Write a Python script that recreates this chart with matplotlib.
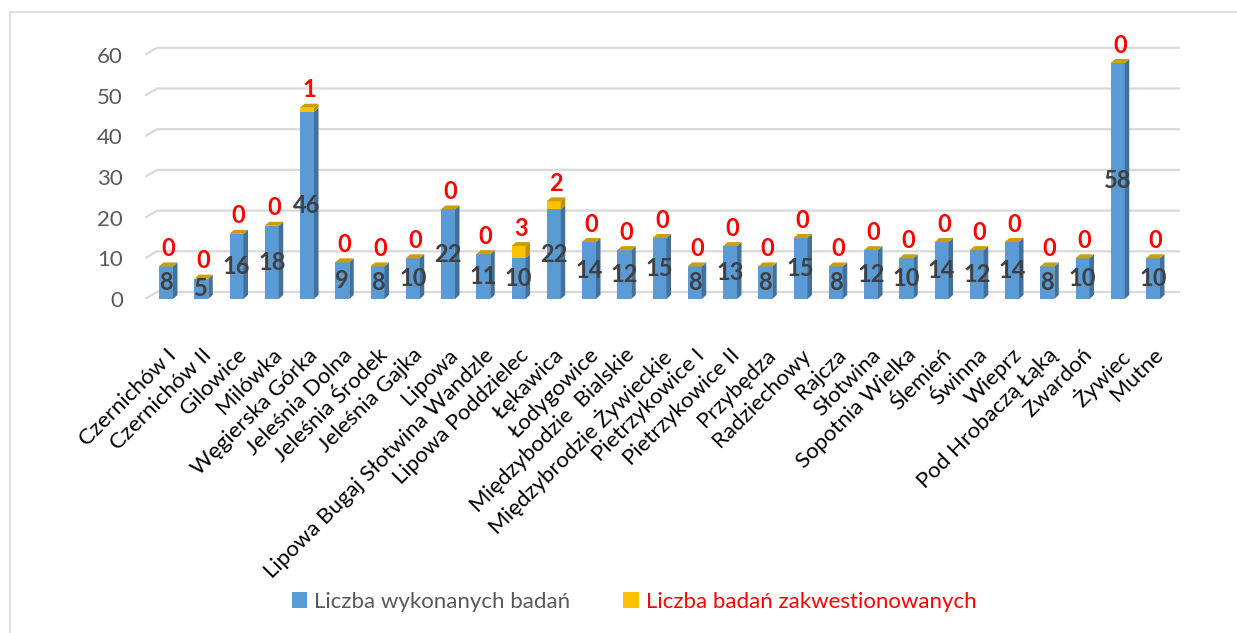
import matplotlib
matplotlib.use('Agg')
import matplotlib.pyplot as plt
from matplotlib.patches import Polygon, Rectangle
from matplotlib.lines import Line2D

plt.rcParams['font.family'] = ['Lato', 'DejaVu Sans']

miejsca = ['Czernichów I', 'Czernichów II', 'Gilowice', 'Milówka', 'Węgierska Górka',
           'Jeleśnia Dolna', 'Jeleśnia Środek', 'Jeleśnia Gajka', 'Lipowa',
           'Lipowa Bugaj Słotwina Wandzle', 'Lipowa Poddzielec', 'Łękawica', 'Łodygowice',
           'Międzybodzie  Bialskie', 'Międzybrodzie Żywieckie', 'Pietrzykowice I',
           'Pietrzykowice II', 'Przybędza', 'Radziechowy', 'Rajcza', 'Słotwina',
           'Sopotnia Wielka', 'Ślemień', 'Świnna', 'Wieprz', 'Pod Hrobaczą Łąką',
           'Zwardoń', 'Żywiec', 'Mutne']
wykonane = [8, 5, 16, 18, 46, 9, 8, 10, 22, 11, 10, 22, 14, 12, 15, 8, 13, 8, 15, 8,
            12, 10, 14, 12, 14, 8, 10, 58, 10]
zakwestionowane = [0, 0, 0, 0, 1, 0, 0, 0, 0, 0, 3, 2, 0, 0, 0, 0, 0, 0, 0, 0,
                   0, 0, 0, 0, 0, 0, 0, 0, 0]
yticks = [0, 10, 20, 30, 40, 50, 60]

BLUE, BLUE_SIDE = '#5B9BD5', '#41719C'
GOLD, GOLD_SIDE, GOLD_TOP = '#FFC000', '#BF9000', '#C9A000'

W, H = 1237, 633
fig = plt.figure(figsize=(W / 100, H / 100), dpi=100)

# pixel layout of the plot area
px_left, px_right, px_bottom, px_top = 145, 1180, 299, 35
px_x0, px_step = 166, 35.25
px_per_unit = 4.07
ax = fig.add_axes([px_left / W, 1 - px_bottom / H, (px_right - px_left) / W,
                   (px_bottom - px_top) / H])
xmin = -(px_x0 - px_left) / px_step
xmax = (px_right - px_x0) / px_step
ymax = (px_bottom - px_top) / px_per_unit
ax.set_xlim(xmin, xmax)
ax.set_ylim(0, ymax)
for s in ax.spines.values():
    s.set_visible(False)

# back wall gridlines with a slanted floor edge
gdx, gdy = 12 / px_step, 7 / px_per_unit
for v in yticks:
    ax.plot([xmin, xmin + gdx, xmax], [v, v + gdy, v + gdy], color='#D9D9D9',
            lw=1.6, zorder=1, solid_capstyle='butt')

# 3D-ish bars
bw = 14 / px_step
dx, dy = 4.5 / px_step, 4 / px_per_unit


def box(x, y0, y1, front, side, top):
    ax.bar(x, y1 - y0, bottom=y0, width=bw, color=front, zorder=3, lw=0)
    xr = x + bw / 2
    ax.add_patch(Polygon([(xr, y0), (xr + dx, y0 + dy), (xr + dx, y1 + dy), (xr, y1)],
                         closed=True, fc=side, ec='none', zorder=3))
    if top:
        xl = x - bw / 2
        ax.add_patch(Polygon([(xl, y1), (xl + dx, y1 + dy), (xr + dx, y1 + dy), (xr, y1)],
                             closed=True, fc=top, ec='none', zorder=3))


for i, (a, b) in enumerate(zip(wykonane, zakwestionowane)):
    box(i, 0, a, BLUE, BLUE_SIDE, None)
    box(i, a, a + b, GOLD, GOLD_SIDE, GOLD_TOP)
    ax.text(i, a / 2, str(a), ha='center', va='center', fontsize=17,
            fontweight='bold', color='#404040', zorder=5)
    ax.annotate(str(b), (i + dx / 2, a + b + dy), xytext=(0, 10),
                textcoords='offset points', ha='center', va='center',
                fontsize=17, fontweight='bold', color='#FF0000', zorder=5)

ax.set_yticks(yticks)
ax.set_yticklabels([str(v) for v in yticks], fontsize=16, color='#595959')
ax.tick_params(axis='y', length=0, pad=16)
ax.set_xticks(range(len(miejsca)))
ax.set_xticklabels(miejsca, rotation=45, ha='right', rotation_mode='anchor',
                   fontsize=16, color='#000000')
ax.tick_params(axis='x', length=0, pad=33)

# legend
handles = [Rectangle((0, 0), 1, 1, fc=BLUE, ec='none'),
           Rectangle((0, 0), 1, 1, fc=GOLD, ec='none')]
leg = fig.legend(handles, ['Liczba wykonanych badań', 'Liczba badań zakwestionowanych'],
                 loc='center', bbox_to_anchor=(634 / W, 1 - 602 / H), ncol=2,
                 frameon=False, fontsize=16, handlelength=0.7, handleheight=0.7,
                 handletextpad=0.3, columnspacing=2.4)
leg.get_texts()[0].set_color('#595959')
leg.get_texts()[1].set_color('#FF0000')

# outer chart border (left and top edges visible)
fig.add_artist(Line2D([10 / W, 10 / W, 1.0], [0.0, 1 - 12 / H, 1 - 12 / H],
                      transform=fig.transFigure, color='#D9D9D9', lw=1.2))

fig.savefig('out.png', dpi=100)
